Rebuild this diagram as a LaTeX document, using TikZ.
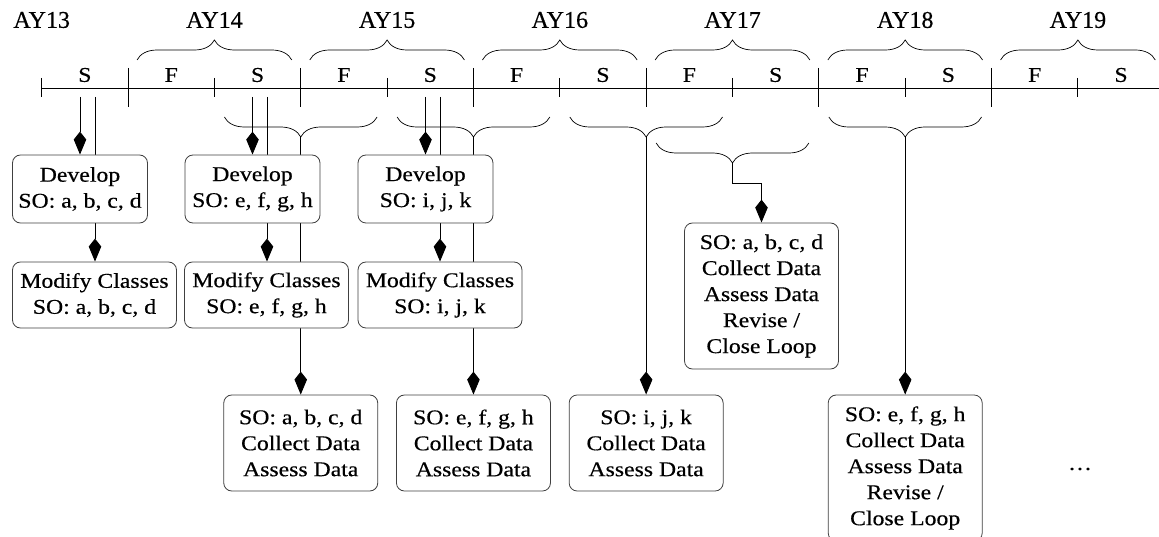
\documentclass[tikz,border=0pt]{standalone}
\usepackage{fontspec}
\setmainfont{Liberation Serif}[FakeBold=0.4]
\newfontfamily\boxfont{Liberation Serif}[FakeStretch=1.13,FakeBold=0.4]
\usetikzlibrary{decorations.pathreplacing,arrows.meta,backgrounds,calc}
\tikzset{
  box/.style={draw=black!75, line width=0.8pt, rounded corners=8pt, fill=white,
    align=center, inner sep=0pt, font=\boxfont\fontsize{21}{26}\selectfont},
  devbox/.style={box, minimum width=135pt, minimum height=68pt},
  modbox/.style={box, minimum width=164pt, minimum height=66pt},
  databox/.style={box, minimum width=154pt, minimum height=96pt},
  loopbox/.style={box, minimum width=154pt, minimum height=146pt},
  conn/.style={line width=0.9pt, -{Stealth[length=15pt,width=12pt,inset=-8pt]}},
  plainline/.style={line width=0.9pt},
  brc/.style={line width=0.7pt, decorate, decoration={brace, amplitude=20pt}},
  semlabel/.style={font=\boxfont\fontsize{21}{25}\selectfont, inner sep=0pt},
  yrlabel/.style={font=\fontsize{24}{28}\selectfont, inner sep=0pt},
}
\begin{document}
\begin{tikzpicture}[x=1pt,y=-1pt]
\useasboundingbox (0,0) rectangle (1159,537);
\def\xo{41.7}
\def\w{86.35}
% timeline
\draw[plainline] (\xo,88) -- (1159,88);
\foreach \i in {0,2,...,12}{
  \draw[plainline] ({\xo+\i*\w},78) -- ({\xo+\i*\w},97);
}
\foreach \i in {1,3,...,11}{
  \draw[plainline] ({\xo+\i*\w},68) -- ({\xo+\i*\w},107);
}
\foreach \i/\l in {0/S,1/F,2/S,3/F,4/S,5/F,6/S,7/F,8/S,9/F,10/S,11/F,12/S}{
  \node[semlabel] (sem\i) at ({\xo+(\i+0.5)*\w},75) {\l};
}
\foreach \k/\y in {0/13,1/14,2/15,3/16,4/17,5/18,6/19}{
  \node[yrlabel] (ay\y) at ({\xo+2*\k*\w},20) {AY\y};
}
% top braces
\foreach \k in {1,...,6}{
  \draw[brc] ({\xo+(2*\k-1)*\w+9},60) -- ({\xo+(2*\k+1)*\w-9},60);
}
% bottom braces (tip down)
\draw[brc] ({\xo+4*\w-10},117) -- ({\xo+2*\w+10},117);
\draw[brc] ({\xo+6*\w-10},117) -- ({\xo+4*\w+10},117);
\draw[brc] ({\xo+8*\w-10},117) -- ({\xo+6*\w+10},117);
\draw[brc] ({\xo+11*\w-10},117) -- ({\xo+9*\w+10},117);
\draw[brc] ({\xo+9*\w-10},143) -- ({\xo+7*\w+10},143);
% brace tips and line starts
\coordinate (bt1) at ({\xo+3*\w},137);
\coordinate (bt2) at ({\xo+5*\w},137);
\coordinate (bt3) at ({\xo+7*\w},137);
\coordinate (bt4) at ({\xo+8*\w},163);
\coordinate (bt5) at ({\xo+10*\w},137);
\coordinate (s1) at (80,97);
\coordinate (s2) at (95,97);
\coordinate (s3) at (252.5,97);
\coordinate (s4) at (267,97);
\coordinate (s5) at (425.5,97);
\coordinate (s6) at (440,97);
% boxes
\node[devbox] (dev1) at (80,189) {Develop\\SO: a, b, c, d};
\node[devbox] (dev2) at (252.5,189) {Develop\\SO: e, f, g, h};
\node[devbox] (dev3) at (425.5,189) {Develop\\SO: i, j, k};
\node[modbox] (mod1) at (94.5,295) {Modify Classes\\SO: a, b, c, d};
\node[modbox] (mod2) at (266.5,295) {Modify Classes\\SO: e, f, g, h};
\node[modbox] (mod3) at (440,295) {Modify Classes\\SO: i, j, k};
\node[databox] (col1) at ({\xo+3*\w},443) {SO: a, b, c, d\\Collect Data\\Assess Data};
\node[databox] (col2) at ({\xo+5*\w},443) {SO: e, f, g, h\\Collect Data\\Assess Data};
\node[databox] (col3) at ({\xo+7*\w},443) {SO: i, j, k\\Collect Data\\Assess Data};
\node[loopbox] (loop1) at (761.5,296) {SO: a, b, c, d\\Collect Data\\Assess Data\\Revise /\\Close Loop};
\node[loopbox] (loop2) at ({\xo+10*\w},468) {SO: e, f, g, h\\Collect Data\\Assess Data\\Revise /\\Close Loop};
\node[semlabel] (dots) at (1080,469) {\ldots};
% connectors behind boxes
\begin{pgfonlayer}{background}
\draw[conn] (s1) -- (s1 |- dev1.north);
\draw[conn] (s2) -- (s2 |- mod1.north);
\draw[conn] (s3) -- (s3 |- dev2.north);
\draw[conn] (s4) -- (s4 |- mod2.north);
\draw[conn] (s5) -- (s5 |- dev3.north);
\draw[conn] (s6) -- (s6 |- mod3.north);
\draw[conn] (bt1) -- (col1.north);
\draw[conn] (bt2) -- (col2.north);
\draw[conn] (bt3) -- (col3.north);
\draw[conn] (bt4) -- ++(0,20) -| (loop1.north);
\draw[conn] (bt5) -- (loop2.north);
\end{pgfonlayer}
\end{tikzpicture}
\end{document}
